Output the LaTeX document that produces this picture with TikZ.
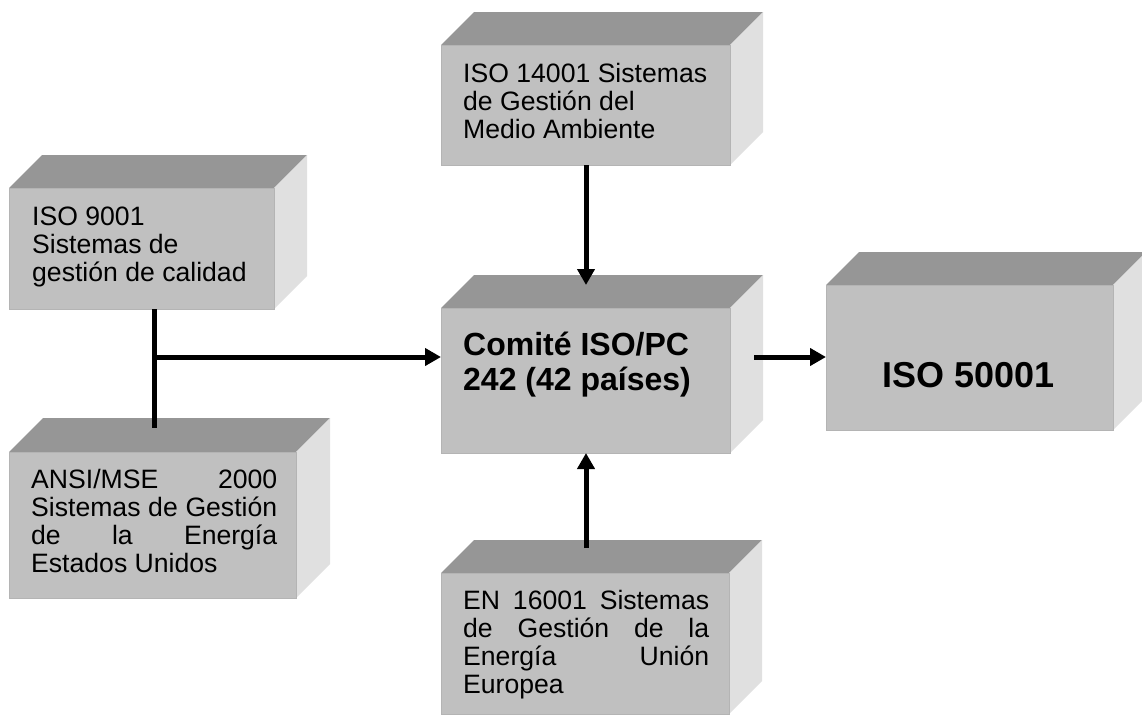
\documentclass[tikz,border=0pt]{standalone}
\usepackage{fontspec}
\setmainfont{Liberation Sans}
\usetikzlibrary{arrows.meta}
\definecolor{frontc}{HTML}{C0C0C0}
\definecolor{topc}{HTML}{969696}
\definecolor{sidec}{HTML}{E0E0E0}
\definecolor{edgec}{HTML}{B4B4B4}
% name, x1, y1, width, height, depth
\newcommand\cubebox[6]{%
  \fill[topc] (#2,#3) -- (#2+#6,#3-#6) -- (#2+#4+#6,#3-#6) -- (#2+#4,#3) -- cycle;
  \fill[sidec] (#2+#4,#3) -- (#2+#4+#6,#3-#6) -- (#2+#4+#6,#3+#5-#6) -- (#2+#4,#3+#5) -- cycle;
  \node[frontface, minimum width=#4pt, minimum height=#5pt] (#1) at (#2,#3) {};
}
\tikzset{
  frontface/.style={fill=frontc, draw=edgec, line width=0.8pt, inner sep=0pt, outer sep=0pt, anchor=north west},
  txt/.style={inner sep=0pt, anchor=base west, font=\fontsize{26.6}{28.3}\selectfont},
  boldtxt/.style={inner sep=0pt, anchor=base west, font=\bfseries\fontsize{32}{35}\selectfont},
  conn/.style={line width=5pt, draw=black},
  arr/.style={conn, -{Triangle[length=16pt,width=17pt]}}
}
\begin{document}
\begin{tikzpicture}[x=1pt,y=-1pt]
\clip (0,0) rectangle (1142,715);
\fill[white] (0,0) rectangle (1142,715);
% boxes
\cubebox{iso9001}{9}{188}{265}{121}{33}
\cubebox{ansi}{9}{452}{287}{146}{34}
\cubebox{iso14001}{441}{45}{289}{120}{33}
\cubebox{comite}{441}{308}{289}{145}{33}
\cubebox{iso50001}{826}{285}{287}{145}{33}
\cubebox{en16001}{441}{573}{288}{141}{33}
% texts
\node[txt] (t9001) at (32,225) {\parbox[t]{250pt}{ISO 9001\\Sistemas de\\gestión de calidad}};
\node[txt] (tansi) at (31,488) {\parbox[t]{246pt}{\makebox[246pt][s]{ANSI/MSE 2000}\\\makebox[246pt][s]{Sistemas de Gestión}\\\makebox[246pt][s]{de la Energía}\\Estados Unidos}};
\node[txt] (t14001) at (463,82) {\parbox[t]{260pt}{ISO 14001 Sistemas\\de Gestión del\\Medio Ambiente}};
\node[boldtxt] (tcomite) at (463,355) {\parbox[t]{260pt}{Comité ISO/PC\\242 (42 países)}};
\node[boldtxt, font=\bfseries\fontsize{36}{40}\selectfont] (t50001) at (882,387) {ISO 50001};
\node[txt] (ten) at (463,609) {\parbox[t]{246pt}{\makebox[246pt][s]{EN 16001 Sistemas}\\\makebox[246pt][s]{de Gestión de la}\\\makebox[246pt][s]{Energía Unión}\\Europea}};
% connectors
\coordinate (jx) at (154,357);
\coordinate (ansitop) at (154,428);
\coordinate (mx) at (586,0);
\coordinate (comtop) at (586,285);
\coordinate (entop) at (586,548);
\coordinate (comright) at (754,357);
\draw[conn] (iso9001.south -| jx) -- (ansitop);
\draw[arr] (jx) -- (comite.west |- jx);
\draw[arr] (iso14001.south -| mx) -- (comtop);
\draw[arr] (entop) -- (comite.south -| mx);
\draw[arr] (comright) -- (iso50001.west |- comright);
\end{tikzpicture}
\end{document}
